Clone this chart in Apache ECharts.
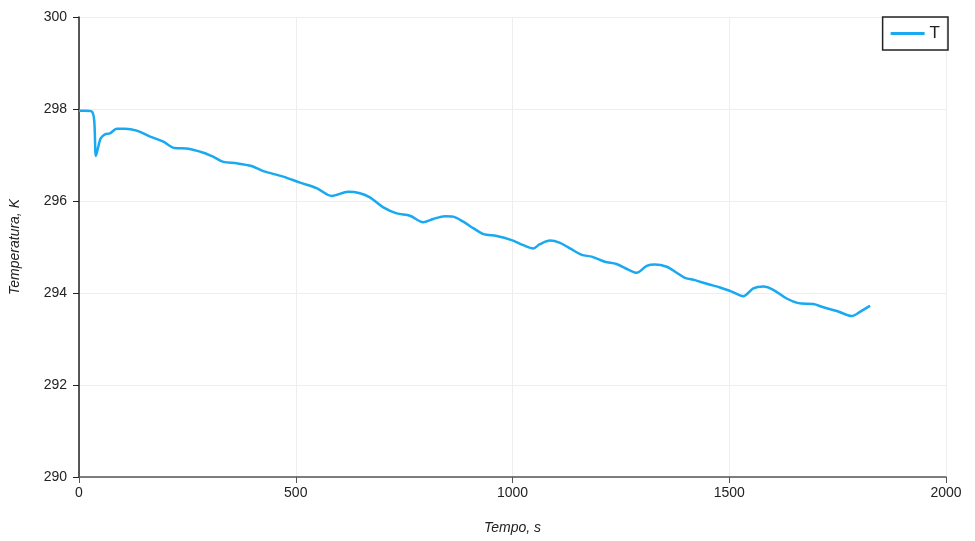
<!DOCTYPE html>
<html>
<head>
<meta charset="utf-8">
<script src="https://cdn.jsdelivr.net/npm/echarts@6/dist/echarts.min.js"></script>
<style>html,body{margin:0;padding:0;background:#fff}#c{width:975px;height:541px}</style>
</head>
<body>
<div id="c"></div>
<script>
const seriesName = 'T';
const xAxisTitle = 'Tempo, s';
const yAxisTitle = 'Temperatura, K';
const timeS = [0, 15, 29, 35, 39, 44.5, 50, 60, 71.5, 87, 106, 133, 164, 194.5, 221, 248, 287, 310, 333, 364, 398, 425, 471, 510, 548, 583, 621, 648, 671, 702, 733, 763.5, 794, 817, 844, 863, 886.5, 909.5, 933, 963.5, 998, 1025, 1048, 1063, 1086.5, 1109.6, 1132.6, 1159.6, 1182.7, 1213, 1240, 1267, 1286.5, 1309.6, 1328.7, 1355.7, 1378.8, 1398, 1421, 1451.7, 1478.7, 1505.7, 1532.4, 1555.5, 1578.6, 1601.6, 1632.4, 1659.3, 1694, 1717, 1748, 1782.5, 1801.6, 1820.8, 1825];
const tempK = [297.96, 297.96, 297.95, 297.76, 296.98, 297.18, 297.36, 297.45, 297.47, 297.57, 297.57, 297.53, 297.40, 297.29, 297.15, 297.14, 297.05, 296.96, 296.85, 296.82, 296.76, 296.65, 296.53, 296.40, 296.28, 296.11, 296.20, 296.17, 296.08, 295.86, 295.73, 295.68, 295.54, 295.61, 295.67, 295.66, 295.55, 295.41, 295.28, 295.24, 295.15, 295.04, 294.97, 295.06, 295.14, 295.09, 294.97, 294.83, 294.79, 294.68, 294.63, 294.51, 294.44, 294.59, 294.62, 294.57, 294.44, 294.33, 294.28, 294.19, 294.12, 294.03, 293.93, 294.10, 294.14, 294.07, 293.88, 293.78, 293.76, 293.69, 293.61, 293.50, 293.59, 293.70, 293.72];

const chart = echarts.init(document.getElementById('c'), null, {renderer: 'canvas'});
const font = 'Liberation Sans';
chart.setOption({
  animation: false,
  backgroundColor: '#fff',
  grid: {left: 79, right: 29, top: 17, bottom: 64, containLabel: false, outerBoundsMode: 'none'},
  legend: {
    data: [seriesName],
    right: 27, top: 17,
    orient: 'vertical',
    icon: 'rect',
    borderColor: '#222', borderWidth: 1.5, borderRadius: 0,
    padding: [8, 8, 8, 8],
    itemWidth: 34, itemHeight: 3, itemGap: 4,
    textStyle: {fontFamily: font, fontSize: 17, color: '#222'}
  },
  xAxis: {
    type: 'value', min: 0, max: 2000, interval: 500,
    name: xAxisTitle, nameLocation: 'middle', nameGap: 44,
    nameTextStyle: {fontFamily: font, fontSize: 14, fontStyle: 'italic', color: '#222'},
    axisLine: {show: true, onZero: false, lineStyle: {color: '#555', width: 1.5}},
    axisTick: {show: true, length: 6, lineStyle: {color: '#555'}},
    axisLabel: {fontFamily: font, fontSize: 14, color: '#222', margin: 9, formatter: v => String(v)},
    splitLine: {show: true, lineStyle: {color: '#eeeeee', width: 1}}
  },
  yAxis: {
    type: 'value', min: 290, max: 300, interval: 2,
    name: yAxisTitle, nameLocation: 'middle', nameGap: 57, nameRotate: 90,
    nameTextStyle: {fontFamily: font, fontSize: 14, fontStyle: 'italic', color: '#222'},
    axisLine: {show: true, onZero: false, lineStyle: {color: '#222', width: 1.5}},
    axisTick: {show: true, length: 6, lineStyle: {color: '#222'}},
    axisLabel: {fontFamily: font, fontSize: 14, color: '#222', margin: 12, formatter: v => String(v)},
    splitLine: {show: true, lineStyle: {color: '#eeeeee', width: 1}}
  },
  series: [{
    name: seriesName, type: 'line',
    data: timeS.map((t, i) => [t, tempK[i]]),
    symbol: 'none', showSymbol: false,
    smooth: 0.3,
    lineStyle: {color: '#18a9f0', width: 2.5},
    itemStyle: {color: '#18a9f0'}
  }]
});
</script>
</body>
</html>
